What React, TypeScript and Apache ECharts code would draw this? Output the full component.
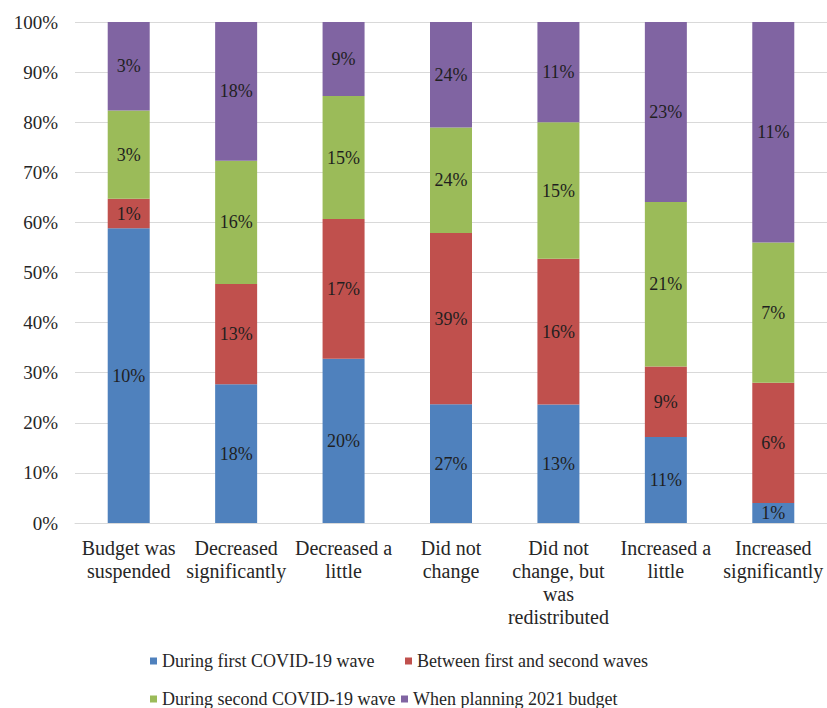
import React, { useEffect, useRef } from "react";
import * as echarts from "echarts";

const categories = [
  "Budget was\nsuspended",
  "Decreased\nsignificantly",
  "Decreased a\nlittle",
  "Did not\nchange",
  "Did not\nchange, but\nwas\nredistributed",
  "Increased a\nlittle",
  "Increased\nsignificantly",
];

const seriesNames = [
  "During first COVID-19 wave",
  "Between first and second waves",
  "During second COVID-19 wave",
  "When planning 2021 budget",
];

// Share of respondents (%) per period, as printed in each segment
const duringFirstWave = [10, 18, 20, 27, 13, 11, 1];
const betweenWaves = [1, 13, 17, 39, 16, 9, 6];
const duringSecondWave = [3, 16, 15, 24, 15, 21, 7];
const planning2021 = [3, 18, 9, 24, 11, 23, 11];

const colors = ["#4F81BD", "#C0504D", "#9BBB59", "#8064A2"];

const FONT = "Liberation Serif";

export default function App() {
  const ref = useRef<HTMLDivElement>(null);

  useEffect(() => {
    if (!ref.current) return;
    const chart = echarts.init(ref.current, undefined, { renderer: "svg" });

    const raw = [duringFirstWave, betweenWaves, duringSecondWave, planning2021];
    const totals = categories.map((_, i) => raw.reduce((s, arr) => s + arr[i], 0));

    // each column is normalised to 100%, labels keep the raw shares
    const series = raw.map((arr, k) => ({
      name: seriesNames[k],
      type: "bar",
      stack: "total",
      barWidth: 42,
      itemStyle: { color: colors[k] },
      data: arr.map((v, i) => (v / totals[i]) * 100),
      label: {
        show: true,
        position: "inside",
        color: "#1f1f1f",
        fontFamily: FONT,
        fontSize: 18,
        formatter: (p: any) => `${arr[p.dataIndex]}%`,
      },
    }));

    const legendPos = [
      { left: 150, top: 652 },
      { left: 405, top: 652 },
      { left: 150, top: 690 },
      { left: 401, top: 690 },
    ];

    chart.setOption({
      animation: false,
      textStyle: { fontFamily: FONT },
      grid: { left: 75, right: -2, top: 22, bottom: 185 },
      xAxis: {
        type: "category",
        data: categories,
        axisLine: { lineStyle: { color: "#d9d9d9" } },
        axisTick: { show: false },
        axisLabel: {
          color: "#262626",
          fontFamily: FONT,
          fontSize: 20,
          lineHeight: 23,
          margin: 13,
          interval: 0,
        },
      },
      yAxis: {
        type: "value",
        min: 0,
        max: 100,
        interval: 10,
        axisLine: { show: false },
        axisTick: { show: false },
        splitLine: { lineStyle: { color: "#d9d9d9" } },
        axisLabel: {
          formatter: "{value}%",
          color: "#262626",
          fontFamily: FONT,
          fontSize: 19,
          margin: 17,
        },
      },
      legend: seriesNames.map((n, k) => ({
        data: [n],
        left: legendPos[k].left,
        top: legendPos[k].top,
        padding: 0,
        icon: "rect",
        itemWidth: 7,
        itemHeight: 7,
        itemGap: 6,
        textStyle: { color: "#262626", fontFamily: FONT, fontSize: 18 },
      })),
      series,
    });

    return () => chart.dispose();
  }, []);

  return (
    <div
      ref={ref}
      style={{ position: "absolute", left: 0, top: 0, width: 827, height: 708, background: "#fff" }}
    />
  );
}
